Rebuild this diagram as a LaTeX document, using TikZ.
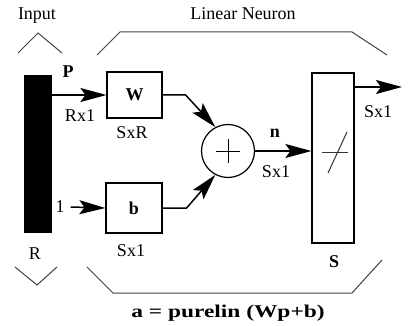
\documentclass[tikz,border=0pt]{standalone}
\usepackage{fontspec}
\setmainfont{Liberation Serif}
\usetikzlibrary{arrows.meta,calc}
\tikzset{
  lbl/.style={inner sep=0pt,font=\fontsize{18}{20}\selectfont},
  blbl/.style={inner sep=0pt,font=\fontsize{18}{20}\selectfont\bfseries},
  boxn/.style={draw,line width=1.2pt,inner sep=0pt},
  arr/.style={line width=1.5pt,-{Stealth[length=26pt,width=14pt,inset=5pt]}},
  brk/.style={line width=1pt,black!75},
}
\begin{document}
\begin{tikzpicture}[x=1pt,y=-1pt]
\useasboundingbox (0,0) rectangle (409,326);
% labels of groups
\node[lbl] (linput) at (37,16) {Input};
\node[lbl] (lneuron) at (243,14) {Linear Neuron};
\draw[brk] (18,53) -- (38,33) -- (62,53);
\draw[brk] (97,55) -- (120,32) -- (352,32) -- (387,55);
\draw[brk] (15,267) -- (37,285) -- (57,267);
\draw[brk] (87,267) -- (113,293) -- (352,293) -- (382,260);
% input bar
\node[fill=black,draw,minimum width=27pt,minimum height=157pt,inner sep=0pt] (in) at (37.5,153.5) {};
\node[blbl] (lp) at (68,72) {P};
\node[lbl] (lrx) at (80,116) {Rx1};
\node[lbl] (lr) at (35,254) {R};
% weight box
\node[boxn,minimum width=55pt,minimum height=46pt,font=\fontsize{18}{20}\selectfont\bfseries] (W) at (134.5,95) {W};
\node[lbl] (lsxr) at (132,133) {SxR};
% bias box
\node[lbl] (one) at (60,207) {1};
\node[boxn,minimum width=56pt,minimum height=50pt,font=\fontsize{18}{20}\selectfont\bfseries] (bb) at (134,208) {b};
\node[lbl] (lsx1b) at (131,251) {Sx1};
% summation
\node[draw,circle,line width=1.2pt,minimum size=53pt,inner sep=0pt] (sum) at (228,151) {};
\draw[line width=1pt] ($(sum.center)+(-12,0)$) -- ($(sum.center)+(12,0)$);
\draw[line width=1pt] ($(sum.center)+(0,-12)$) -- ($(sum.center)+(0,12)$);
\node[blbl] (ln) at (275,133) {n};
\node[lbl] (lsx1n) at (276,172) {Sx1};
% transfer box
\node[boxn,minimum width=42pt,minimum height=170pt] (f) at (333,158) {};
\draw[line width=1pt,black!80] (322,152) -- (348,152);
\draw[line width=1pt,black!80] (328,173) -- (347,132);
\node[blbl] (ls) at (334,262) {S};
\coordinate (outend) at (402,87);
\node[lbl] (lsx1o) at (378,112) {Sx1};
\node[blbl] (lform) at (228,313) {\scalebox{1.3}[1]{a = purelin (Wp+b)}};
% connectors
\draw[arr] (in.east |- W.west) -- (W.west);
\draw[arr] (one.east) ++(6,0) -- (bb.west);
\draw[arr] (W.east) -- ++(23,0) -- (sum.118);
\draw[arr] (bb.east) -- ++(24,0) -- (sum.242);
\draw[arr] (sum.east) -- (f.west |- sum.east);
\draw[arr] (f.east |- outend) -- (outend);
\end{tikzpicture}
\end{document}
